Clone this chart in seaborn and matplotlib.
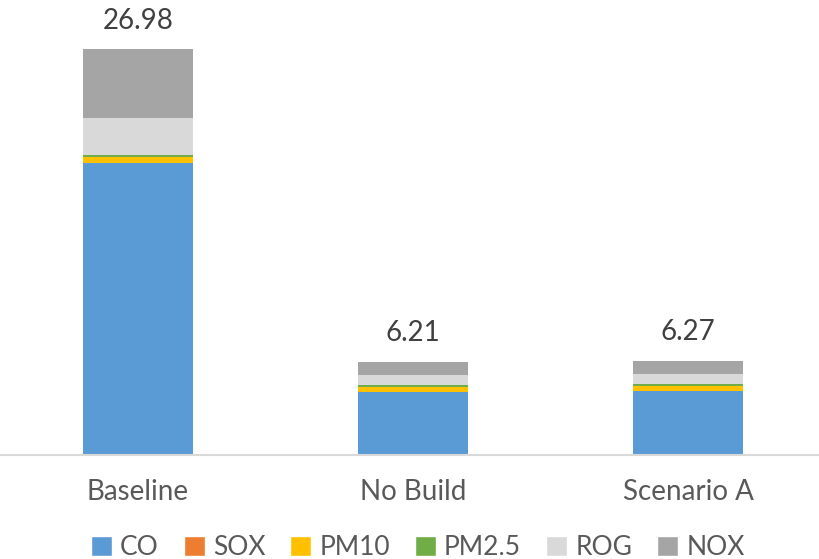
import matplotlib
matplotlib.use("Agg")
import matplotlib.pyplot as plt
import numpy as np
import pandas as pd
import seaborn as sns
from matplotlib.patches import Patch

scenarios = ["Baseline", "No Build", "Scenario A"]
pollutants = ["CO", "SOX", "PM10", "PM2.5", "ROG", "NOX"]
co = [19.40, 4.20, 4.27]
sox = [0.01, 0.01, 0.01]
pm10 = [0.40, 0.33, 0.33]
pm25 = [0.11, 0.09, 0.09]
rog = [2.48, 0.69, 0.69]
nox = [4.58, 0.89, 0.88]
totals = [26.98, 6.21, 6.27]
colors = ["#5B9BD5", "#ED7D31", "#FFC000", "#70AD47", "#D9D9D9", "#A5A5A5"]

df = pd.DataFrame({"Scenario": scenarios, "CO": co, "SOX": sox, "PM10": pm10,
                   "PM2.5": pm25, "ROG": rog, "NOX": nox})
cum = df[pollutants].cumsum(axis=1)
cum["Scenario"] = df["Scenario"]

sns.set_theme(style="white")
plt.rcParams["font.family"] = ["Lato", "DejaVu Sans"]

fig = plt.figure(figsize=(8.19, 5.59), dpi=100)
ax = fig.add_axes([0, 0.186, 1, 0.807])

# overlapping cumulative bars, drawn from the top layer down
for name, color in reversed(list(zip(pollutants, colors))):
    sns.barplot(data=cum, x="Scenario", y=name, color=color, width=0.4,
                saturation=1, linewidth=0, ax=ax, zorder=2)

for i, t in enumerate(totals):
    ax.annotate(f"{t:.2f}", (i, t), xytext=(0, 11), textcoords="offset points",
                ha="center", va="bottom", fontsize=20, color="#404040")

ax.set_xlim(-0.502, 2.476)
ax.set_ylim(0, 30)
ax.set_xlabel("")
ax.set_ylabel("")
ax.set_yticks([])
ax.tick_params(axis="x", length=0, labelsize=20, labelcolor="#595959", pad=17)
for s in ["top", "left", "right"]:
    ax.spines[s].set_visible(False)
ax.spines["bottom"].set_color("#D9D9D9")
ax.spines["bottom"].set_linewidth(1.5)

handles = [Patch(facecolor=c, label=p) for p, c in zip(pollutants, colors)]
leg = fig.legend(handles=handles, loc="center", bbox_to_anchor=(0.51, 0.02), ncol=6,
                 frameon=False, fontsize=19, handlelength=0.8, handleheight=0.8,
                 handletextpad=0.3, columnspacing=0.95)
for t in leg.get_texts():
    t.set_color("#595959")

fig.savefig("out.png", dpi=100)
